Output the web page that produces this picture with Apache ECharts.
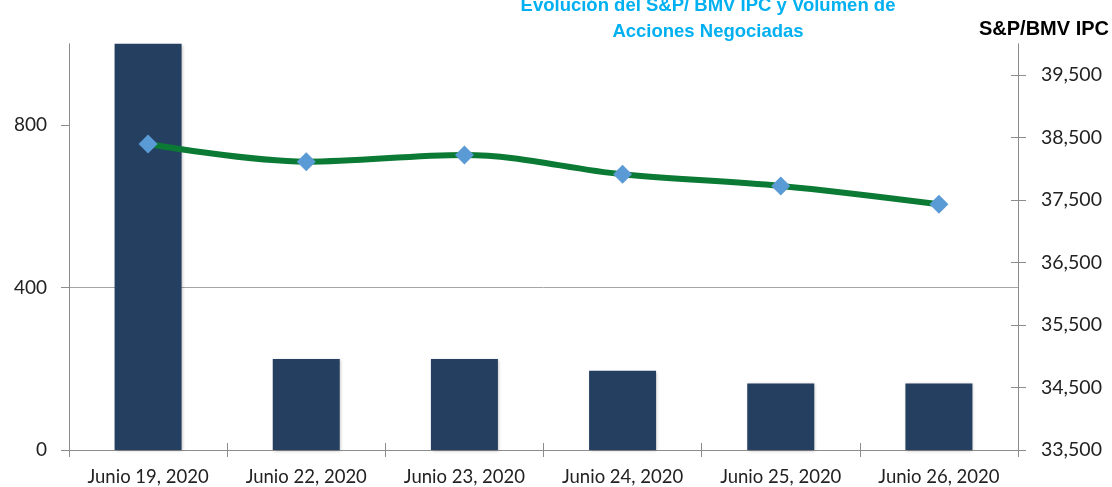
<!DOCTYPE html>
<html lang="es">
<head>
    <meta charset="utf-8">
    <title>S&amp;P/BMV IPC y Volumen</title>
    <script src="https://cdn.jsdelivr.net/npm/echarts@6/dist/echarts.min.js"></script>
    <style type="text/css">
        html, body { margin: 0; padding: 0; background: #fff; }
        #main { width: 1112px; height: 487px; }
    </style>
</head>
<body>
<div id="main"></div>

<script type="text/javascript">
    // datos
    var fechas = ['Junio 19, 2020', 'Junio 22, 2020', 'Junio 23, 2020', 'Junio 24, 2020', 'Junio 25, 2020', 'Junio 26, 2020'];
    var volumen = [1250, 224, 224, 195, 164, 164];
    var ipc = [38396, 38113, 38220, 37911, 37724, 37431];
    var ticksVolumen = [0, 400, 800];
    var ticksIpc = [33500, 34500, 35500, 36500, 37500, 38500, 39500];

    var gris = '#8c8c8c';
    var fuente = 'Lato';

    var myChart = echarts.init(document.getElementById('main'));
    var option = {
        animation: false,
        title: [{
            text: 'Evolución del S&P/ BMV IPC y Volumen de\nAcciones Negociadas',
            left: 703,
            top: -12,
            textAlign: 'center',
            textStyle: {
                color: '#00b0f0',
                fontFamily: 'Liberation Sans',
                fontWeight: 'bold',
                fontSize: 18.5,
                lineHeight: 26
            }
        }, {
            text: 'S&P/BMV IPC',
            left: 1039,
            top: 14,
            textAlign: 'center',
            textStyle: {
                color: '#000',
                fontFamily: 'Liberation Sans',
                fontWeight: 'bold',
                fontSize: 20
            }
        }],
        grid: {left: 69, right: 94, top: 43.75, bottom: 37, containLabel: false},
        xAxis: [{
            type: 'category',
            data: fechas,
            position: 'bottom',
            axisLine: {lineStyle: {color: gris}},
            axisTick: {show: true, inside: false, length: 7, lineStyle: {color: gris}},
            axisLabel: {color: '#222', fontFamily: fuente, fontSize: 18.5, margin: 18}
        }, {
            // ticks interiores (el eje original los cruza)
            type: 'category',
            data: fechas,
            position: 'bottom',
            axisLine: {show: false},
            axisTick: {show: true, inside: true, length: 7, lineStyle: {color: gris}},
            axisLabel: {show: false}
        }],
        yAxis: [{
            type: 'value',
            min: 0,
            max: 1000,
            interval: 400,
            position: 'left',
            axisLine: {show: true, lineStyle: {color: gris}},
            axisTick: {show: true, length: 8, customValues: ticksVolumen, lineStyle: {color: gris}},
            axisLabel: {color: '#222', fontFamily: fuente, fontSize: 19, margin: 22, customValues: ticksVolumen},
            splitLine: {show: true, showMaxLine: false, lineStyle: {color: '#a6a6a6'}}
        }, {
            type: 'value',
            min: 33500,
            max: 40000,
            position: 'right',
            axisLine: {show: true, lineStyle: {color: gris}},
            axisTick: {show: true, length: 8, customValues: ticksIpc, lineStyle: {color: gris}},
            axisLabel: {color: '#222', fontFamily: fuente, fontSize: 19.5, margin: 23, customValues: ticksIpc},
            splitLine: {show: false}
        }, {
            type: 'value',
            min: 33500,
            max: 40000,
            position: 'right',
            axisLine: {show: false},
            axisTick: {show: true, inside: true, length: 7, customValues: ticksIpc, lineStyle: {color: gris}},
            axisLabel: {show: false, customValues: ticksIpc},
            splitLine: {show: false}
        }],
        series: [{
            name: 'Volumen',
            type: 'bar',
            data: volumen,
            barWidth: 67,
            yAxisIndex: 0,
            itemStyle: {
                color: '#243f60',
                shadowColor: 'rgba(0,0,0,0.25)',
                shadowBlur: 3,
                shadowOffsetX: 1,
                shadowOffsetY: 1
            }
        }, {
            name: 'S&P/BMV IPC',
            type: 'line',
            data: ipc,
            yAxisIndex: 1,
            smooth: 0.35,
            symbol: 'diamond',
            symbolSize: 19,
            lineStyle: {color: '#0b7a34', width: 6},
            itemStyle: {color: '#5b9bd5', borderWidth: 0},
            z: 5
        }]
    };
    myChart.setOption(option);
</script>
</body>
</html>
